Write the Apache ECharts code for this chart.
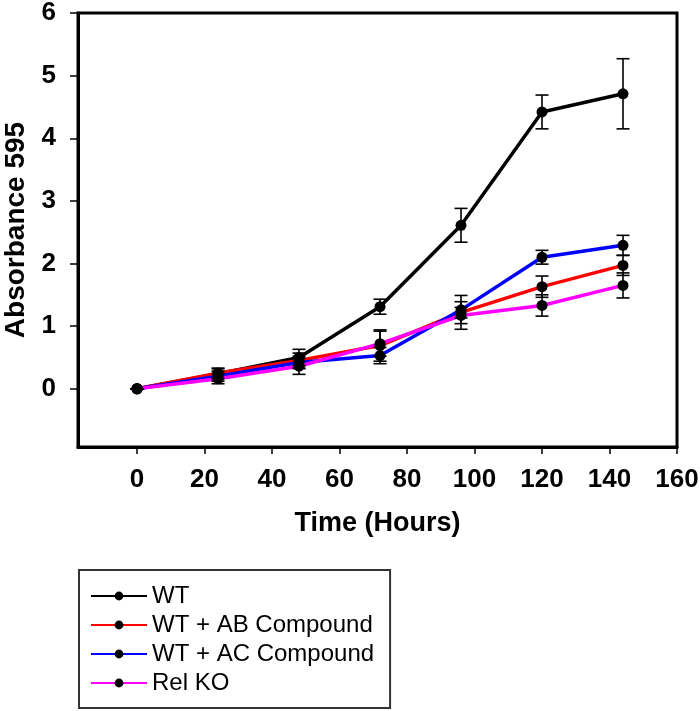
<!DOCTYPE html>
<html>
<head>
<meta charset="utf-8">
<script src="https://cdn.jsdelivr.net/npm/echarts@6/dist/echarts.min.js"></script>
<style>
  html, body { margin: 0; padding: 0; background: #fff; }
  #main { width: 700px; height: 711px; }
</style>
</head>
<body>
<div id="main"></div>
<script>
var hours = [0, 24, 48, 72, 96, 120, 144];
var xTicks = [0, 20, 40, 60, 80, 100, 120, 140, 160];
var yTicks = [0, 1, 2, 3, 4, 5, 6];

var seriesNames = ['WT', 'WT + AB Compound', 'WT + AC Compound', 'Rel KO'];
var seriesColors = ['#000000', '#ff0000', '#0000ff', '#ff00ff'];

var wt = [0, 0.24, 0.50, 1.31, 2.61, 4.42, 4.71];
var wtErr = [0, 0.08, 0.13, 0.12, 0.27, 0.27, 0.56];
var ab = [0, 0.25, 0.45, 0.69, 1.22, 1.63, 1.97];
var abErr = [0, 0.08, 0.12, 0.25, 0.27, 0.17, 0.16];
var ac = [0, 0.20, 0.42, 0.53, 1.26, 2.10, 2.29];
var acErr = [0, 0.08, 0.10, 0.13, 0.13, 0.11, 0.16];
var relKo = [0, 0.16, 0.36, 0.72, 1.17, 1.33, 1.65];
var relKoErr = [0, 0.08, 0.13, 0.20, 0.13, 0.17, 0.20];

var allValues = [wt, ab, ac, relKo];
var allErrors = [wtErr, abErr, acErr, relKoErr];

var font = 'Liberation Sans, Arial, sans-serif';

var chart = echarts.init(document.getElementById('main'));

var series = [];
// lines with black dots
for (var i = 0; i < seriesNames.length; i++) {
  series.push({
    name: seriesNames[i],
    type: 'line',
    data: hours.map(function (h, j) { return [h, allValues[i][j]]; }),
    symbol: 'circle',
    symbolSize: 11,
    itemStyle: { color: '#000' },
    lineStyle: { color: seriesColors[i], width: 3.5 },
    z: 3
  });
}
// error bars
for (var k = 0; k < seriesNames.length; k++) {
  series.push({
    type: 'custom',
    name: seriesNames[k] + ' err',
    data: hours.map(function (h, j) {
      return [h, allValues[k][j] - allErrors[k][j], allValues[k][j] + allErrors[k][j]];
    }),
    renderItem: function (params, api) {
      var lo = api.coord([api.value(0), api.value(1)]);
      var hi = api.coord([api.value(0), api.value(2)]);
      var half = 6.5;
      var st = { stroke: '#000', lineWidth: 1.6 };
      return {
        type: 'group',
        children: [
          { type: 'line', shape: { x1: lo[0], y1: lo[1], x2: hi[0], y2: hi[1] }, style: st },
          { type: 'line', shape: { x1: hi[0] - half, y1: hi[1], x2: hi[0] + half, y2: hi[1] }, style: st },
          { type: 'line', shape: { x1: lo[0] - half, y1: lo[1], x2: lo[0] + half, y2: lo[1] }, style: st }
        ]
      };
    },
    encode: { x: 0, y: [1, 2] },
    z: 4,
    silent: true
  });
}

var option = {
  animation: false,
  backgroundColor: '#fff',
  grid: {
    left: 78, right: 23, top: 13, bottom: 264,
    show: true, borderColor: '#000', borderWidth: 3,
    outerBoundsMode: 'none'
  },
  legend: {
    data: seriesNames,
    orient: 'vertical',
    left: 79, top: 570,
    padding: [14, 16, 13, 11],
    itemWidth: 56, itemHeight: 11, itemGap: 5, itemTextGap: 12,
    borderColor: '#333', borderWidth: 2,
    textStyle: { fontFamily: font, fontSize: 24, color: '#000', lineHeight: 23 }
  },
  xAxis: {
    type: 'value',
    min: -17.5, max: 160,
    name: 'Time (Hours)',
    nameLocation: 'middle',
    nameGap: 63,
    nameTextStyle: { fontFamily: font, fontSize: 27, fontWeight: 'bold', color: '#000' },
    axisLine: { show: true, onZero: false, lineStyle: { color: '#000', width: 3 } },
    axisTick: { show: true, inside: false, length: 7, customValues: xTicks, lineStyle: { color: '#000', width: 1.5 } },
    axisLabel: { customValues: xTicks, margin: 20, fontFamily: font, fontSize: 26, fontWeight: 'bold', color: '#000' },
    splitLine: { show: false }
  },
  yAxis: {
    type: 'value',
    min: -0.93, max: 6,
    name: 'Absorbance 595',
    nameLocation: 'middle',
    nameGap: 46,
    nameTextStyle: { fontFamily: font, fontSize: 28, fontWeight: 'bold', color: '#000' },
    axisLine: { show: true, onZero: false, lineStyle: { color: '#000', width: 3 } },
    axisTick: { show: true, inside: false, length: 8, customValues: yTicks, lineStyle: { color: '#000', width: 1.5 } },
    axisLabel: { customValues: yTicks, margin: 22, fontFamily: font, fontSize: 26, fontWeight: 'bold', color: '#000' },
    splitLine: { show: false }
  },
  series: series
};

chart.setOption(option);
</script>
</body>
</html>
